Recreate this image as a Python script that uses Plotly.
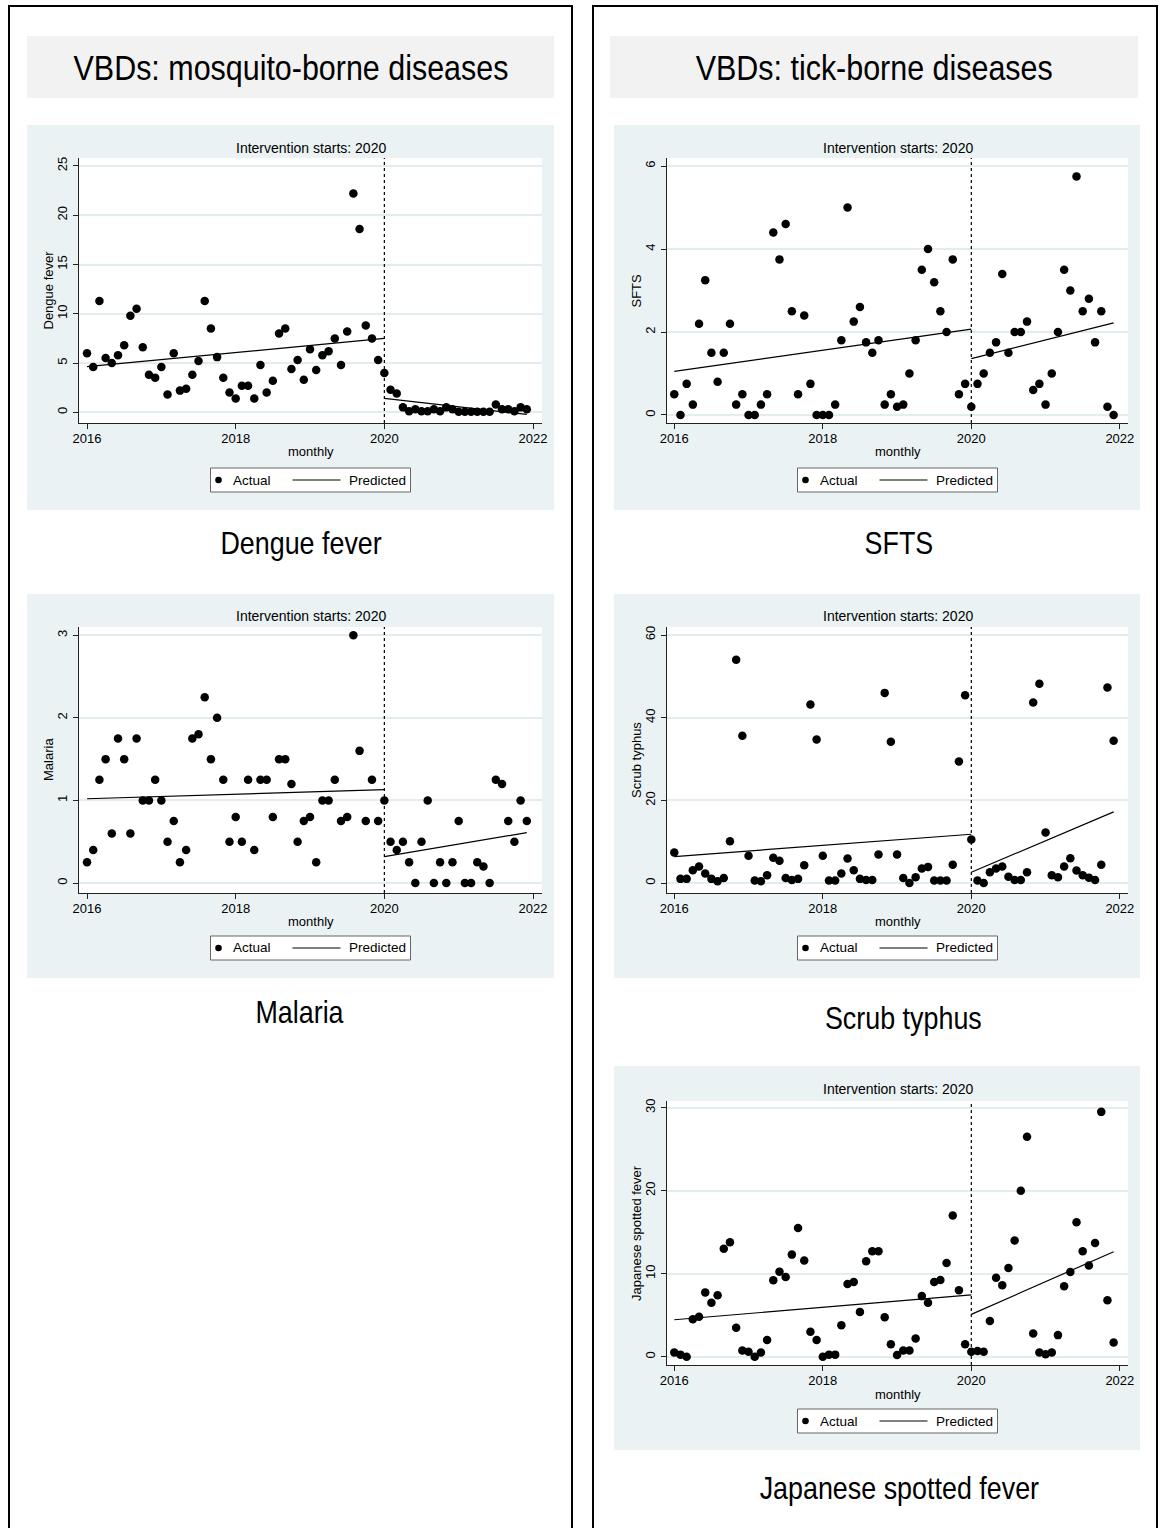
import plotly.graph_objects as go
import pandas as pd

# ---------------- data ----------------
months = pd.date_range("2016-01-01", periods=72, freq="MS")
t = list(months.year + (months.month - 1) / 12.0)

dengue = [6.0, 4.6, 11.3, 5.5, 5.0, 5.8, 6.8, 9.8, 10.5, 6.6,
          3.8, 3.5, 4.6, 1.8, 6.0, 2.2, 2.4, 3.8, 5.2, 11.3,
          8.5, 5.6, 3.5, 2.0, 1.4, 2.7, 2.7, 1.4, 4.8, 2.0,
          3.2, 8.0, 8.5, 4.4, 5.3, 3.3, 6.4, 4.3, 5.8, 6.2,
          7.5, 4.8, 8.2, 22.2, 18.6, 8.8, 7.5, 5.3, 4.0,
          2.3, 1.9, 0.5, 0.1, 0.3, 0.1, 0.1, 0.3, 0.1, 0.5,
          0.3, 0.05, 0.05, 0.05, 0.05, 0.05, 0.05, 0.8, 0.3, 0.3,
          0.1, 0.5, 0.3]

malaria = [0.25, 0.4, 1.25, 1.5, 0.6, 1.75, 1.5, 0.6, 1.75, 1.0,
           1.0, 1.25, 1.0, 0.5, 0.75, 0.25, 0.4, 1.75, 1.8, 2.25,
           1.5, 2.0, 1.25, 0.5, 0.8, 0.5, 1.25, 0.4, 1.25, 1.25,
           0.8, 1.5, 1.5, 1.2, 0.5, 0.75, 0.8, 0.25, 1.0, 1.0,
           1.25, 0.75, 0.8, 3.0, 1.6, 0.75, 1.25, 0.75, 1.0,
           0.5, 0.4, 0.5, 0.25, 0.0, 0.5, 1.0, 0.0, 0.25, 0.0,
           0.25, 0.75, 0.0, 0.0, 0.25, 0.2, 0.0, 1.25, 1.2, 0.75,
           0.5, 1.0, 0.75]

sfts = [0.5, 0.0, 0.75, 0.25, 2.2, 3.25, 1.5, 0.8, 1.5, 2.2,
        0.25, 0.5, 0.0, 0.0, 0.25, 0.5, 4.4, 3.75, 4.6, 2.5,
        0.5, 2.4, 0.75, 0.0, 0.0, 0.0, 0.25, 1.8, 5.0, 2.25,
        2.6, 1.75, 1.5, 1.8, 0.25, 0.5, 0.2, 0.25, 1.0, 1.8,
        3.5, 4.0, 3.2, 2.5, 2.0, 3.75, 0.5, 0.75, 0.2,
        0.75, 1.0, 1.5, 1.75, 3.4, 1.5, 2.0, 2.0, 2.25, 0.6,
        0.75, 0.25, 1.0, 2.0, 3.5, 3.0, 5.75, 2.5, 2.8, 1.75,
        2.5, 0.2, 0.0]

scrub = [7.4, 1.0, 1.0, 3.1, 4.0, 2.3, 1.0, 0.4, 1.2, 10.1,
         54.0, 35.6, 6.6, 0.6, 0.4, 1.9, 6.1, 5.4, 1.2, 0.7,
         1.0, 4.3, 43.2, 34.7, 6.6, 0.6, 0.6, 2.3, 5.9, 3.1,
         1.0, 0.7, 0.7, 6.9, 46.0, 34.2, 6.9, 1.2, 0.0, 1.4,
         3.5, 3.9, 0.6, 0.6, 0.6, 4.4, 29.4, 45.4, 10.5,
         0.6, 0.0, 2.6, 3.5, 4.0, 1.5, 0.7, 0.7, 2.6, 43.7,
         48.2, 12.2, 1.9, 1.4, 4.0, 6.0, 3.0, 1.9, 1.3, 0.7,
         4.4, 47.3, 34.4]

jsf = [0.5, 0.25, 0.0, 4.5, 4.8, 7.75, 6.5, 7.4, 13.0, 13.8,
       3.5, 0.75, 0.6, 0.0, 0.5, 2.0, 9.2, 10.25, 9.6, 12.3,
       15.5, 11.6, 3.0, 2.0, 0.0, 0.25, 0.25, 3.8, 8.75, 9.0,
       5.4, 11.5, 12.7, 12.7, 4.75, 1.5, 0.2, 0.75, 0.75, 2.2,
       7.3, 6.5, 9.0, 9.25, 11.3, 17.0, 8.0, 1.5, 0.6,
       0.7, 0.6, 4.3, 9.5, 8.6, 10.7, 14.0, 20.0, 26.5, 2.8,
       0.5, 0.3, 0.5, 2.6, 8.5, 10.2, 16.2, 12.7, 11.0, 13.7,
       29.5, 6.8, 1.7]

# predicted (segmented linear trend) end points
pred_pre_months = ["2016-01-01", "2020-01-01"]
pred_post_months = ["2020-01-01", "2021-12-01"]
dengue_pred_pre, dengue_pred_post = [4.63, 7.50], [1.42, -0.22]
malaria_pred_pre, malaria_pred_post = [1.02, 1.13], [0.32, 0.61]
sfts_pred_pre, sfts_pred_post = [1.05, 2.07], [1.36, 2.22]
scrub_pred_pre, scrub_pred_post = [6.4, 11.8], [2.6, 17.2]
jsf_pred_pre, jsf_pred_post = [4.45, 7.45], [5.1, 12.65]

x_tick_vals = [2016, 2018, 2020, 2022]
x_tick_text = ["2016", "2018", "2020", "2022"]
intervention_year = 2020

def to_dec(ds):
    d = pd.to_datetime(ds)
    return list(d.year + (d.month - 1) / 12.0)

# ---------------- layout helpers ----------------
W, H = 1163, 1528
def xp(px): return px / W
def yp(py): return 1 - py / H

FONT = "Liberation Sans, Arial, Helvetica, sans-serif"
PANEL_BG = "#EAF2F3"
HEADER_BG = "#F2F2F2"

cols = {
    0: dict(bg=(27, 554), plot=(79, 542), xr=[2015.892, 2022.121]),
    1: dict(bg=(614, 1140), plot=(667, 1128), xr=[2015.902, 2022.110]),
}
rows = {
    0: dict(bg=(125, 510), plot=(158, 423), title=148, legend=480),
    1: dict(bg=(594, 978), plot=(627, 893), title=616, legend=948),
    2: dict(bg=(1066, 1450), plot=(1101, 1365), title=1089, legend=1421),
}

panels = [
    dict(name="Dengue fever", ylab="Dengue fever", y=dengue, pre=dengue_pred_pre, post=dengue_pred_post,
         col=0, row=0, yticks=[0, 5, 10, 15, 20, 25], yr=[-1.086, 25.81], cap=(301, 543)),
    dict(name="Malaria", ylab="Malaria", y=malaria, pre=malaria_pred_pre, post=malaria_pred_post,
         col=0, row=1, yticks=[0, 1, 2, 3], yr=[-0.121, 3.100], cap=(299, 1012)),
    dict(name="SFTS", ylab="SFTS", y=sfts, pre=sfts_pred_pre, post=sfts_pred_post,
         col=1, row=0, yticks=[0, 2, 4, 6], yr=[-0.193, 6.193], cap=(899, 543)),
    dict(name="Scrub typhus", ylab="Scrub typhus", y=scrub, pre=scrub_pred_pre, post=scrub_pred_post,
         col=1, row=1, yticks=[0, 20, 40, 60], yr=[-2.42, 61.94], cap=(903, 1018)),
    dict(name="Japanese spotted fever", ylab="Japanese spotted fever", y=jsf, pre=jsf_pred_pre, post=jsf_pred_post,
         col=1, row=2, yticks=[0, 10, 20, 30], yr=[-1.0, 30.81], cap=(899, 1488)),
]

fig = go.Figure()
shapes = []
annotations = []
layout_axes = {}

# outer boxes (open at the bottom edge of the page) and headers
shapes.append(dict(type="rect", xref="paper", yref="paper", x0=xp(9), x1=xp(572), y0=yp(1545), y1=yp(6),
                   line=dict(color="black", width=2), fillcolor="rgba(0,0,0,0)", layer="below"))
shapes.append(dict(type="rect", xref="paper", yref="paper", x0=xp(593), x1=xp(1157), y0=yp(1545), y1=yp(6),
                   line=dict(color="black", width=2), fillcolor="rgba(0,0,0,0)", layer="below"))
for (x0, x1, txt, cx) in [(27, 554, "VBDs: mosquito-borne diseases", 290.5),
                          (610, 1138, "VBDs: tick-borne diseases", 874)]:
    shapes.append(dict(type="rect", xref="paper", yref="paper", x0=xp(x0), x1=xp(x1), y0=yp(98), y1=yp(36),
                       line=dict(width=0), fillcolor=HEADER_BG, layer="below"))
    annotations.append(dict(text=txt, x=xp(cx), y=yp(67), xref="paper", yref="paper", showarrow=False,
                            xanchor="center", yanchor="middle", font=dict(family=FONT, size=35, color="black")))

for i, p in enumerate(panels, start=1):
    c = cols[p["col"]]; r = rows[p["row"]]
    xa = "x" if i == 1 else f"x{i}"
    ya = "y" if i == 1 else f"y{i}"
    shapes.append(dict(type="rect", xref="paper", yref="paper", x0=xp(c["bg"][0]), x1=xp(c["bg"][1]),
                       y0=yp(r["bg"][1]), y1=yp(r["bg"][0]), line=dict(width=0), fillcolor=PANEL_BG, layer="below"))
    shapes.append(dict(type="rect", xref="paper", yref="paper", x0=xp(c["plot"][0]), x1=xp(c["plot"][1]),
                       y0=yp(r["plot"][1]), y1=yp(r["plot"][0]), line=dict(width=0), fillcolor="white", layer="below"))

    fig.add_trace(go.Scatter(x=t, y=p["y"], mode="markers", xaxis=xa, yaxis=ya, showlegend=False,
                             marker=dict(color="black", size=8.5), name="Actual"))
    fig.add_trace(go.Scatter(x=to_dec(pred_pre_months), y=p["pre"], mode="lines", xaxis=xa, yaxis=ya,
                             showlegend=False, line=dict(color="black", width=1.2), name="Predicted"))
    fig.add_trace(go.Scatter(x=to_dec(pred_post_months), y=p["post"], mode="lines", xaxis=xa, yaxis=ya,
                             showlegend=False, line=dict(color="black", width=1.2), name="Predicted"))

    axis_font = dict(family=FONT, size=13, color="black")
    layout_axes["xaxis" if i == 1 else f"xaxis{i}"] = dict(
        domain=[xp(c["plot"][0]), xp(c["plot"][1])], range=c["xr"], anchor=ya, automargin=False,
        tickvals=x_tick_vals, ticktext=x_tick_text, ticks="outside", ticklen=5, tickcolor="#222",
        showline=True, linecolor="#222", linewidth=1, showgrid=False, zeroline=False, tickfont=axis_font,
        ticklabelstandoff=-2)
    layout_axes["yaxis" if i == 1 else f"yaxis{i}"] = dict(
        domain=[yp(r["plot"][1]), yp(r["plot"][0])], range=p["yr"], anchor=xa, automargin=False,
        tickvals=p["yticks"], ticktext=[str(v) for v in p["yticks"]], tickangle=-90,
        ticks="outside", ticklen=5, tickcolor="#222", showline=True, linecolor="#222", linewidth=1,
        showgrid=True, gridcolor="#E3ECEE", gridwidth=1.5, zeroline=False, tickfont=axis_font,
        ticklabelstandoff=1)

    shapes.append(dict(type="line", xref=xa, yref=f"{ya} domain", x0=intervention_year, x1=intervention_year,
                       y0=0, y1=1, line=dict(color="black", width=1.2, dash="dot"), layer="above"))

    cx = (c["plot"][0] + c["plot"][1]) / 2
    annotations.append(dict(text="Intervention starts: 2020", x=xp(cx), y=yp(r["title"]), xref="paper", yref="paper",
                            showarrow=False, xanchor="center", yanchor="middle",
                            font=dict(family=FONT, size=14, color="black")))
    annotations.append(dict(text="monthly", x=xp(cx), y=yp(r["plot"][1] + 29), xref="paper", yref="paper",
                            showarrow=False, xanchor="center", yanchor="middle",
                            font=dict(family=FONT, size=13, color="black")))
    annotations.append(dict(text=p["ylab"], x=xp(c["plot"][0] - 31), y=yp((r["plot"][0] + r["plot"][1]) / 2),
                            xref="paper", yref="paper", showarrow=False, textangle=-90,
                            xanchor="center", yanchor="middle", font=dict(family=FONT, size=13, color="black")))
    ly = r["legend"]
    shapes.append(dict(type="rect", xref="paper", yref="paper", x0=xp(cx - 100), x1=xp(cx + 100),
                       y0=yp(ly + 12), y1=yp(ly - 12), line=dict(color="#666", width=1), fillcolor="white",
                       layer="above"))
    shapes.append(dict(type="circle", xref="paper", yref="paper", xsizemode="pixel", ysizemode="pixel",
                       xanchor=xp(cx - 92), yanchor=yp(ly), x0=-3.3, x1=3.3, y0=-3.3, y1=3.3,
                       fillcolor="black", line=dict(width=0), layer="above"))
    shapes.append(dict(type="line", xref="paper", yref="paper", x0=xp(cx - 18), x1=xp(cx + 30),
                       y0=yp(ly), y1=yp(ly), line=dict(color="black", width=1.2), layer="above"))
    annotations.append(dict(text="Actual", x=xp(cx - 80), y=yp(ly), xref="paper", yref="paper", showarrow=False,
                            xanchor="left", yanchor="middle", font=dict(family=FONT, size=13.5, color="black")))
    annotations.append(dict(text="Predicted", x=xp(cx + 36), y=yp(ly), xref="paper", yref="paper",
                            showarrow=False, xanchor="left", yanchor="middle",
                            font=dict(family=FONT, size=13.5, color="black")))
    annotations.append(dict(text=p["name"], x=xp(p["cap"][0]), y=yp(p["cap"][1]),
                            xref="paper", yref="paper", showarrow=False, xanchor="center", yanchor="middle",
                            font=dict(family=FONT, size=32, color="black")))

fig.update_layout(width=W, height=H, margin=dict(l=0, r=0, t=0, b=0, pad=0, autoexpand=False),
                  paper_bgcolor="white", plot_bgcolor="rgba(0,0,0,0)", showlegend=False,
                  shapes=shapes, annotations=annotations, font=dict(family=FONT, color="black"))
fig.update_layout(**layout_axes)

# narrow (condensed) look for the big header / caption texts, like the original Arial Narrow
post = """
document.documentElement.style.overflow='hidden';
document.body.style.margin='0';
document.body.style.overflow='hidden';
document.querySelectorAll('text.annotation-text').forEach(function(el){
  var fs = parseFloat(el.style.fontSize || '0');
  if (fs >= 30) {
    var s = fs >= 34 ? 0.87 : 0.84;
    el.style.transformBox = 'fill-box';
    el.style.transformOrigin = 'center';
    el.style.transform = 'scaleX(' + s + ')';
  }
});
"""
fig.write_html("out.html", config={"displayModeBar": False, "responsive": False}, post_script=post)
